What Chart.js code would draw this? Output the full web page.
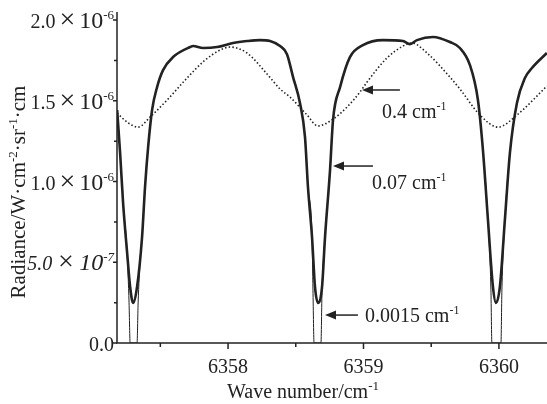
<!DOCTYPE html>
<html>
<head>
<meta charset="utf-8">
<script src="https://cdn.jsdelivr.net/npm/chart.js@4.4.1/dist/chart.umd.min.js"></script>
<style>
  html, body { margin: 0; padding: 0; background: #fff; }
  #wrap { width: 547px; height: 404px; position: relative; }
</style>
</head>
<body>
<div id="wrap"><canvas id="c"></canvas></div>
<script>
// wave number in cm^-1, radiance in units of 1e-6 W·cm^-2·sr^-1·cm

// 0.0015 cm^-1 resolution
const wn0015 = [
  6357.181, 6357.203, 6357.225, 6357.255, 6357.269, 6357.277, 6357.328, 6357.336,
  6357.351, 6357.365, 6357.387, 6357.410, 6357.439, 6357.476, 6357.520, 6357.594,
  6357.720, 6357.742, 6357.815, 6357.919, 6358.037, 6358.140, 6358.236, 6358.310,
  6358.384, 6358.435, 6358.480, 6358.531, 6358.568, 6358.590, 6358.620, 6358.627,
  6358.635, 6358.686, 6358.694, 6358.716, 6358.753, 6358.775, 6358.827, 6358.900,
  6358.996, 6359.144, 6359.292, 6359.343, 6359.395, 6359.513, 6359.638, 6359.712,
  6359.786, 6359.845, 6359.882, 6359.919, 6359.941, 6359.948, 6360.015, 6360.022,
  6360.044, 6360.081, 6360.133, 6360.192, 6360.244, 6360.354,
];
const rad0015 = [
  1.443, 1.176, 0.867, 0.557, 0.248, 0.000, 0.000, 0.248,
  0.514, 0.656, 0.966, 1.214, 1.443, 1.585, 1.690, 1.771,
  1.833, 1.839, 1.827, 1.833, 1.858, 1.870, 1.876, 1.870,
  1.839, 1.789, 1.647, 1.486, 1.276, 0.966, 0.656, 0.328,
  0.000, 0.000, 0.328, 0.656, 1.071, 1.381, 1.585, 1.771,
  1.845, 1.876, 1.870, 1.851, 1.876, 1.895, 1.864, 1.827,
  1.721, 1.505, 1.195, 0.762, 0.328, 0.000, 0.000, 0.328,
  0.762, 1.176, 1.486, 1.641, 1.703, 1.796,
];

// 0.07 cm^-1 resolution
const wn07 = [
  6357.181, 6357.203, 6357.225, 6357.255, 6357.277, 6357.299, 6357.328, 6357.365,
  6357.387, 6357.410, 6357.439, 6357.476, 6357.520, 6357.594, 6357.720, 6357.742,
  6357.815, 6357.919, 6358.037, 6358.140, 6358.236, 6358.310, 6358.384, 6358.435,
  6358.480, 6358.531, 6358.568, 6358.590, 6358.620, 6358.642, 6358.664, 6358.694,
  6358.716, 6358.753, 6358.775, 6358.827, 6358.900, 6358.996, 6359.144, 6359.292,
  6359.343, 6359.395, 6359.513, 6359.638, 6359.712, 6359.786, 6359.845, 6359.882,
  6359.919, 6359.956, 6359.978, 6360.007, 6360.044, 6360.081, 6360.133, 6360.192,
  6360.244, 6360.354,
];
const rad07 = [
  1.443, 1.176, 0.867, 0.557, 0.347, 0.248, 0.347, 0.656,
  0.966, 1.214, 1.443, 1.585, 1.690, 1.771, 1.833, 1.839,
  1.827, 1.833, 1.858, 1.870, 1.876, 1.870, 1.839, 1.789,
  1.647, 1.486, 1.276, 0.966, 0.656, 0.347, 0.248, 0.347,
  0.656, 1.071, 1.381, 1.585, 1.771, 1.845, 1.876, 1.870,
  1.851, 1.876, 1.895, 1.864, 1.827, 1.721, 1.505, 1.195,
  0.762, 0.347, 0.248, 0.347, 0.762, 1.176, 1.486, 1.641,
  1.703, 1.796,
];

// 0.4 cm^-1 resolution
const wn4 = [
  6357.181, 6357.255, 6357.336, 6357.424, 6357.550, 6357.697, 6357.830, 6357.941,
  6358.015, 6358.140, 6358.288, 6358.384, 6358.458, 6358.583, 6358.664, 6358.775,
  6358.878, 6358.974, 6359.026, 6359.173, 6359.292, 6359.358, 6359.469, 6359.638,
  6359.712, 6359.860, 6359.993, 6360.133, 6360.354,
];
const rad4 = [
  1.424, 1.368, 1.337, 1.399, 1.505, 1.641, 1.752, 1.814,
  1.833, 1.796, 1.666, 1.573, 1.523, 1.412, 1.344, 1.387,
  1.461, 1.554, 1.616, 1.765, 1.839, 1.858, 1.796, 1.647,
  1.573, 1.412, 1.337, 1.412, 1.591,
];

const xTicks = [6358, 6359, 6360];
const xMinorTicks = [6357.5, 6358.5, 6359.5];
const yTicks = [0, 0.5, 1.0, 1.5, 2.0];
const yTickMantissa = ['0.0', '5.0', '1.0', '1.5', '2.0'];
const yTickExponent = [null, '-7', '-6', '-6', '-6'];
const yMinorTicks = [0.25, 0.75, 1.25, 1.75];

// arrow labels: text, superscript, arrow tip (x, y), arrow tail x, label start (x, y)
const notes = [
  { text: '0.4 cm', sup: '-1', tip: [6358.989, 1.567], tail: 6359.269, at: [6359.137, 1.437] },
  { text: '0.07 cm', sup: '-1', tip: [6358.775, 1.096], tail: 6359.070, at: [6359.063, 0.997] },
  { text: '0.0015 cm', sup: '-1', tip: [6358.716, 0.173], tail: 6358.959, at: [6359.011, 0.173] },
];

const toPoints = (xs, ys) => xs.map((x, i) => ({ x, y: ys[i] }));

const INK = '#222';
const SERIF = '"Liberation Serif", "Times New Roman", serif';
const f = (size, style) => (style ? style + ' ' : '') + size + 'px ' + SERIF;

// draws text pieces in a row; each piece is [text, font, dy, gapAfter]
function drawRow(ctx, parts, x, y, align) {
  let w = 0;
  parts.forEach(p => { ctx.font = p[1]; w += ctx.measureText(p[0]).width + (p[3] || 0); });
  let cx = align === 'right' ? x - w : align === 'center' ? x - w / 2 : x;
  ctx.textAlign = 'left';
  parts.forEach(p => {
    ctx.font = p[1];
    ctx.fillText(p[0], cx, y + (p[2] || 0));
    cx += ctx.measureText(p[0]).width + (p[3] || 0);
  });
}

const italicTicks = new Set([0.5]);

const axesPlugin = {
  id: 'axesAndNotes',
  afterDraw(chart) {
    const ctx = chart.ctx;
    const xs = chart.scales.x, ys = chart.scales.y;
    const { left, right, top, bottom } = chart.chartArea;
    ctx.save();
    ctx.strokeStyle = INK;
    ctx.fillStyle = INK;
    ctx.lineWidth = 1.5;
    ctx.textBaseline = 'alphabetic';

    // axis lines
    ctx.beginPath();
    ctx.moveTo(left, top);
    ctx.lineTo(left, bottom);
    ctx.lineTo(right, bottom);
    ctx.stroke();

    // x ticks
    ctx.beginPath();
    xTicks.forEach(v => { const px = xs.getPixelForValue(v); ctx.moveTo(px, bottom); ctx.lineTo(px, bottom + 6); });
    xMinorTicks.forEach(v => { const px = xs.getPixelForValue(v); ctx.moveTo(px, bottom); ctx.lineTo(px, bottom + 4); });
    // y ticks
    yTicks.forEach(v => { const py = ys.getPixelForValue(v); ctx.moveTo(left, py); ctx.lineTo(left - 4, py); });
    yMinorTicks.forEach(v => { const py = ys.getPixelForValue(v); ctx.moveTo(left, py); ctx.lineTo(left - 3, py); });
    ctx.stroke();

    // x tick labels
    xTicks.forEach(v => drawRow(ctx, [[String(v), f(20)]], xs.getPixelForValue(v), bottom + 30, 'center'));

    // y tick labels
    yTicks.forEach((v, i) => {
      const py = ys.getPixelForValue(v) + 8;
      const st = italicTicks.has(v) ? 'italic' : '';
      const parts = [[yTickMantissa[i], f(20, st)]];
      if (yTickExponent[i]) {
        parts[0][3] = 4;
        parts.push(['×', f(28, st), 0, 4]);
        parts.push(['10', f(24, st)]);
        parts.push([yTickExponent[i], f(13, st), -9]);
      }
      drawRow(ctx, parts, left - 3, py, 'right');
    });

    // axis titles
    drawRow(ctx, [['Wave number/cm', f(20)], ['-1', f(13), -8]], 303, 398, 'center');
    ctx.save();
    ctx.translate(25, 192);
    ctx.rotate(-Math.PI / 2);
    drawRow(ctx, [
      ['Radiance/W·cm', f(21)], ['-2', f(13), -8],
      ['·sr', f(21)], ['-1', f(13), -8],
      ['·cm', f(21)],
    ], 0, 0, 'center');
    ctx.restore();

    // arrows and resolution labels
    notes.forEach(n => {
      const tx = xs.getPixelForValue(n.tip[0]), ty = ys.getPixelForValue(n.tip[1]);
      const ex = xs.getPixelForValue(n.tail);
      ctx.beginPath();
      ctx.moveTo(tx + 8, ty);
      ctx.lineTo(ex, ty);
      ctx.stroke();
      ctx.beginPath();
      ctx.moveTo(tx, ty);
      ctx.lineTo(tx + 11, ty - 4.5);
      ctx.lineTo(tx + 11, ty + 4.5);
      ctx.closePath();
      ctx.fill();
      drawRow(ctx, [[n.text, f(20)], [n.sup, f(12), -8]],
        xs.getPixelForValue(n.at[0]), ys.getPixelForValue(n.at[1]) + 7, 'left');
    });
    ctx.restore();
  },
};

new Chart(document.getElementById('c'), {
  type: 'line',
  data: {
    datasets: [
      {
        label: '0.4 cm-1',
        data: toPoints(wn4, rad4),
        borderColor: INK,
        borderWidth: 1.6,
        borderDash: [1.5, 2.2],
        cubicInterpolationMode: 'monotone',
        pointRadius: 0,
      },
      {
        label: '0.0015 cm-1',
        data: toPoints(wn0015, rad0015),
        borderColor: INK,
        borderWidth: 1,
        cubicInterpolationMode: 'monotone',
        pointRadius: 0,
      },
      {
        label: '0.07 cm-1',
        data: toPoints(wn07, rad07),
        borderColor: INK,
        borderWidth: 2.6,
        cubicInterpolationMode: 'monotone',
        pointRadius: 0,
      },
    ],
  },
  options: {
    responsive: true,
    maintainAspectRatio: false,
    animation: false,
    layout: { padding: { left: 117, right: 0, top: 12, bottom: 61 } },
    scales: {
      x: { type: 'linear', min: 6357.18, max: 6360.355, display: false },
      y: { min: 0, max: 2.05, display: false },
    },
    plugins: { legend: { display: false }, tooltip: { enabled: false } },
  },
  plugins: [axesPlugin],
});
</script>
</body>
</html>
